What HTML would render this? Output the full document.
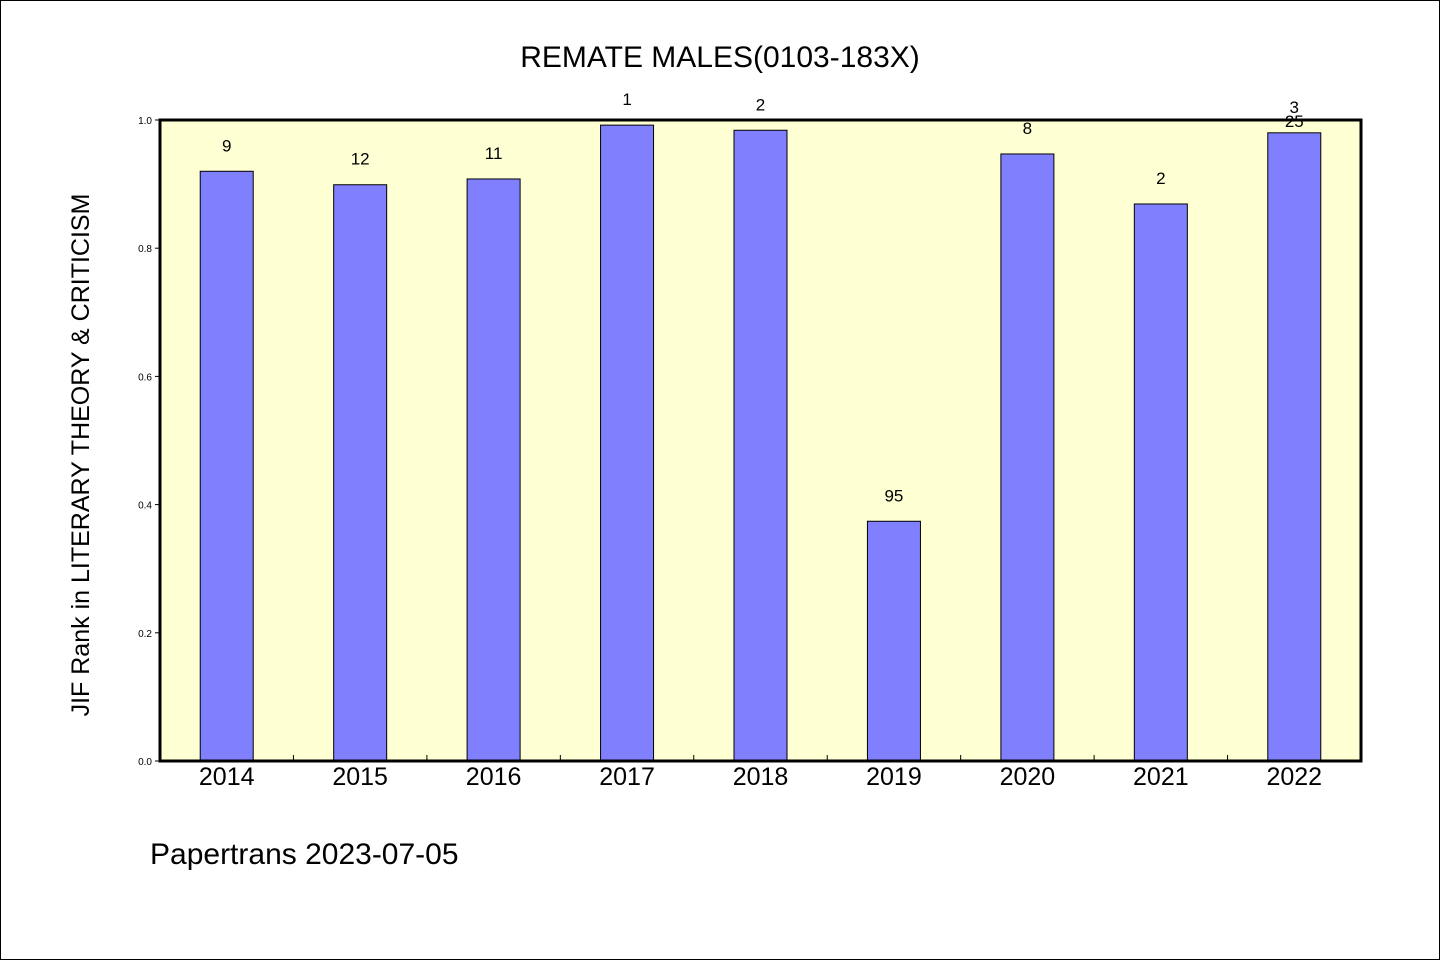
<!DOCTYPE html>
<html><head><meta charset="utf-8"><style>
html,body{margin:0;padding:0;background:#fff}
svg{display:block}
text{font-family:"WenQuanYi Zen Hei","Liberation Sans",sans-serif;fill:#000}
</style></head><body>
<svg id="chart" width="1440" height="960" viewBox="0 0 1440 960" xmlns="http://www.w3.org/2000/svg">
<rect x="0.5" y="0.5" width="1439" height="959" fill="#fff" stroke="#000"/>
<text x="720" y="67" font-size="30" text-anchor="middle">REMATE MALES(0103-183X)</text>
<rect x="160" y="120" width="1201" height="641" fill="#ffffd4"/>
<g id="bars"></g>
<g id="yaxis"></g>
<rect x="160" y="120" width="1201" height="641" fill="none" stroke="#000" stroke-width="3"/>
<text transform="translate(89,455) rotate(-90)" font-size="25" text-anchor="middle">JIF Rank in LITERARY THEORY &amp; CRITICISM</text>
<text x="150" y="864" font-size="30">Papertrans 2023-07-05</text>
</svg>
<script>
const categories=["2014","2015","2016","2017","2018","2019","2020","2021","2022"];
const values=[0.920,0.899,0.908,0.992,0.984,0.374,0.947,0.869,0.980];
const labels=["9","12","11","1","2","95","8","2","3"];
const extraLabels=["","","","","","","","","25"];
const yTicks=[0,0.2,0.4,0.6,0.8,1.0];
const X0=160,X1=1361,Y0=761,Y1=120;
const NS="http://www.w3.org/2000/svg";
const step=(X1-X0)/categories.length;
const xc=i=>X0+step*(i+0.5);
const ys=v=>Y0-(v)*(Y0-Y1);
const bars=document.getElementById('bars'),ya=document.getElementById('yaxis');
function mk(t,a,p){const e=document.createElementNS(NS,t);for(const k in a)e.setAttribute(k,a[k]);p.appendChild(e);return e;}
categories.forEach((c,i)=>{
  const r=mk('rect',{x:xc(i)-26.5,y:ys(values[i]),width:53,height:Y0-ys(values[i]),fill:'#8080ff',stroke:'#000','stroke-width':1},bars);
  
  
  const t=mk('text',{x:xc(i),y:ys(values[i])-20,'font-size':17,'text-anchor':'middle'},bars);t.textContent=labels[i];
  
  
  if(extraLabels[i]){const t2=mk('text',{x:xc(i),y:ys(values[i])-6,'font-size':17,'text-anchor':'middle'},bars);t2.textContent=extraLabels[i];
    
    }
  const xl=mk('text',{x:xc(i),y:785,'font-size':25,'text-anchor':'middle'},bars);xl.textContent=c;
  
  
  if(i>0){const tk=mk('line',{x1:X0+step*i,x2:X0+step*i,y1:Y0,y2:Y0-6,stroke:'#000'},bars);
    
    }
});
yTicks.forEach(v=>{
  const l=mk('line',{x1:155,x2:160,y1:ys(v),y2:ys(v),stroke:'#000'},ya);
  
  
  const t=mk('text',{x:152,y:ys(v)+4,'font-size':10,'text-anchor':'end'},ya);t.textContent=v.toFixed(1);
  
  
});
</script>
</body></html>
